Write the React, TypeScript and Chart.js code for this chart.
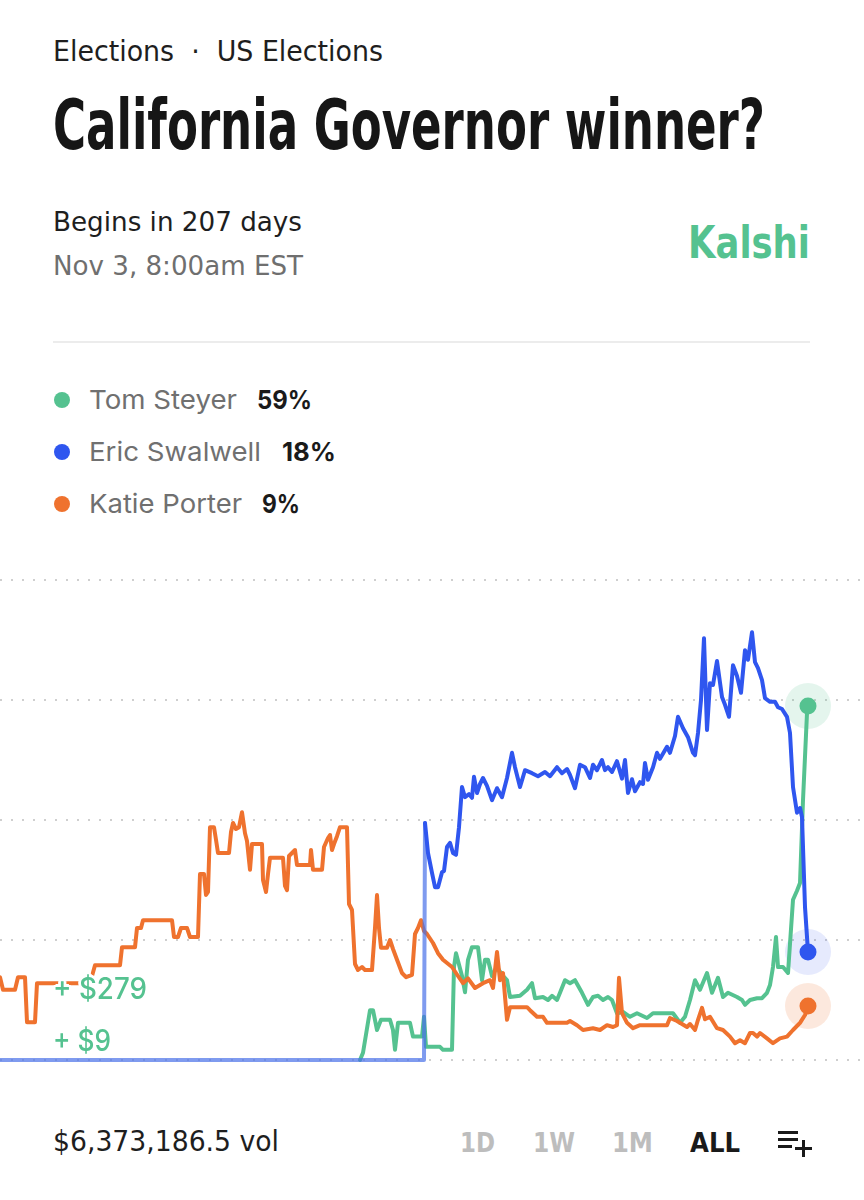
import React, { useEffect, useLayoutEffect, useRef } from "react";
import { Chart, registerables } from "chart.js";

Chart.register(...registerables);

// ---------- data (x = time index along the ALL range, y = chance in %) ----------
const candidates = ["Tom Steyer", "Eric Swalwell", "Katie Porter"];
const currentPct = [59, 18, 9];
const gridTicks = [0, 20, 40, 60, 80];
const xRange = [0, 864];
const marketOpenX = 425;

const steyerPoints: number[][] = [
  [360, 0], [363, 1.2], [370, 8.3], [373, 8.3], [377, 5], [381, 6.7], [390, 6.7], [393, 5], [395, 1.7],
  [398, 6.2], [410, 6.2], [413, 3.9], [422, 3.9], [424, 7.2], [426, 2.2], [440, 2.2], [443, 1.7],
  [452, 1.7], [454, 15.5], [456, 17.8], [462, 14], [465, 11.3], [468, 16.7], [472, 18.8], [478, 18.8],
  [482, 13.3], [485, 16.7], [488, 16.7], [492, 14], [497, 15.5], [503, 14], [507, 13.3], [510, 10.5],
  [520, 10.7], [527, 11.7], [532, 12.8], [535, 10.3], [543, 10.5], [548, 10], [552, 10.7], [557, 10],
  [560, 11.2], [565, 13.3], [570, 12.8], [575, 13.3], [582, 11.2], [588, 9.2], [593, 10.5], [598, 10.7],
  [603, 10], [608, 10.5], [612, 10], [617, 7.8], [623, 8], [630, 7.2], [637, 7.8], [647, 7], [653, 7.8],
  [673, 7.8], [680, 6.2], [685, 7.2], [690, 10], [695, 13.3], [700, 11.7], [707, 14.5], [712, 11.2],
  [718, 13.7], [723, 10.5], [728, 11.2], [737, 10.5], [742, 10], [745, 9.2], [750, 10], [757, 10.3],
  [762, 10.3], [767, 11.2], [770, 12.5], [773, 15.5], [776, 20.5], [778, 15.5], [783, 15.5], [788, 14.5],
  [793, 26.7], [797, 28.2], [800, 29.5], [803, 43.3], [807, 57.8], [808, 59],
];

const swalwellPoints: number[][] = [
  [0, 0], [424, 0], [425, 39.5], [428, 34.5], [432, 31.2], [435, 28.8], [438, 28.8], [442, 31.3],
  [444, 31.5], [447, 35.5], [450, 36.2], [453, 34.5], [456, 34.2], [459, 38.8], [462, 45.5], [465, 43.8],
  [469, 44.3], [472, 43.7], [474, 47.2], [477, 44.5], [480, 46], [483, 47], [487, 45.7], [492, 43.3],
  [497, 45.3], [502, 43.8], [507, 47], [512, 51.2], [515, 48.8], [520, 45.5], [525, 48.3], [532, 47.8],
  [538, 47.3], [545, 48], [550, 47.3], [557, 48.8], [562, 47.8], [567, 48.5], [570, 47.5], [575, 45.3],
  [580, 49.2], [585, 48.8], [590, 47], [593, 49.2], [597, 48.3], [602, 50], [605, 48.3], [608, 48.8],
  [612, 48], [617, 49.8], [622, 46.9], [625, 50], [628, 44.5], [632, 46.8], [635, 44.8], [640, 46.3],
  [643, 46], [645, 49.5], [648, 46.7], [653, 48.8], [657, 51.2], [660, 50.2], [667, 52.2], [670, 51.2],
  [675, 54], [678, 57.2], [683, 55.3], [688, 53.8], [693, 51.2], [695, 50.8], [698, 54.5], [701, 60],
  [704, 70.3], [707, 55], [710, 62.8], [713, 62.5], [717, 66.5], [722, 60.5], [725, 59.2], [729, 57.2],
  [733, 65.8], [737, 64], [741, 61.2], [745, 68.3], [748, 66.7], [752, 71.3], [755, 66.3], [758, 65.3],
  [762, 63.3], [765, 60.3], [770, 59.7], [775, 59.7], [778, 58.8], [782, 58.5], [787, 57.2], [790, 54.5],
  [793, 45.5], [797, 41.2], [800, 42], [802, 40.5], [805, 25.5], [808, 18],
];

const porterPoints: number[][] = [
  [0, 13.8], [3, 11.7], [15, 11.7], [18, 13.8], [25, 13.8], [27, 6.3], [35, 6.3], [37, 12.8], [90, 12.8],
  [95, 15.8], [120, 15.8], [122, 18.8], [135, 18.8], [137, 22], [141, 22], [143, 23.3], [172, 23.3],
  [174, 20.5], [178, 20.5], [181, 22], [187, 22], [190, 20.5], [198, 20.5], [200, 31], [204, 31],
  [206, 27.5], [208, 28], [210, 38.8], [214, 38.8], [216, 36.7], [218, 34.5], [229, 34.5], [231, 38],
  [233, 39.5], [236, 38.5], [239, 38.8], [242, 41.3], [245, 37.8], [247, 36.5], [250, 31.7], [252, 36],
  [262, 36], [263, 30], [266, 28], [268, 31], [270, 33.7], [283, 33.7], [285, 29], [287, 28.3], [289, 34],
  [292, 34.5], [295, 35], [297, 32.5], [310, 32.5], [311, 35], [313, 31.7], [322, 31.7], [324, 35.5],
  [328, 37], [330, 37.5], [332, 35], [334, 36], [337, 37.3], [340, 38.8], [347, 38.8], [349, 26],
  [352, 25], [355, 16], [358, 15], [362, 15.5], [365, 15], [372, 15], [375, 22], [377, 27.5], [379, 22],
  [381, 18.7], [387, 18.7], [390, 20], [393, 18.5], [397, 16.7], [402, 14.5], [406, 13.8], [412, 14.2],
  [415, 21], [418, 22], [421, 23.3], [424, 21.5], [427, 21], [433, 19.5], [438, 17.8], [443, 16.7],
  [452, 15.5], [458, 14], [463, 12.8], [468, 13.6], [475, 12], [483, 12.8], [490, 13.3], [493, 12],
  [497, 18], [500, 13.3], [503, 14.5], [507, 6.7], [510, 8.8], [527, 8.8], [530, 8.3], [537, 7.2],
  [543, 7.2], [547, 6.2], [567, 6.2], [570, 6.5], [577, 5.8], [583, 5], [593, 5.3], [600, 5], [607, 5.8],
  [613, 5.5], [617, 5.8], [619, 13.7], [622, 7.8], [627, 6.2], [633, 5.3], [640, 5.8], [653, 5.8],
  [667, 5.8], [670, 7], [677, 6.5], [687, 5.5], [690, 6], [695, 5], [698, 6.7], [702, 8.7], [705, 6.8],
  [710, 7.2], [717, 5.3], [723, 5], [730, 3.9], [735, 2.8], [740, 3.3], [745, 2.8], [750, 4.5],
  [753, 4.5], [757, 3.9], [760, 4.5], [767, 3.6], [773, 2.8], [780, 3.6], [787, 3.9], [793, 5],
  [800, 6.2], [805, 7.5], [808, 9],
];

const GREEN = "#55c290";
const BLUE = "#2f56ef";
const BLUE_LIGHT = "rgba(72,112,232,0.7)";
const ORANGE = "#ef722e";
const HALOS = ["rgba(85,194,144,0.16)", "rgba(47,86,239,0.12)", "rgba(239,114,46,0.16)"];
const COLORS = [GREEN, BLUE, ORANGE];

const NARROW = '"Liberation Sans Narrow", "DejaVu Sans Condensed", "Roboto", sans-serif';
const SANS = 'Inter, "Noto Sans", Roboto, sans-serif';

function Fit(props: {
  x: number; y: number; w: number; size: number; weight?: number; color: string;
  family: string; children: React.ReactNode; shadow?: string; capRatio?: number;
}) {
  const ref = useRef<HTMLSpanElement>(null);
  useLayoutEffect(() => {
    const el = ref.current;
    if (!el) return;
    el.style.transform = "none";
    const actual = el.getBoundingClientRect().width;
    if (actual > 0) el.style.transform = `scaleX(${props.w / actual})`;
  });
  const top = props.y - props.size * (props.capRatio ?? 0.49);
  return (
    <span
      ref={ref}
      style={{
        position: "absolute", left: props.x, top, whiteSpace: "nowrap", transformOrigin: "0 0",
        fontSize: props.size, lineHeight: `${props.size}px`, fontWeight: props.weight ?? 400,
        color: props.color, fontFamily: props.family, textShadow: props.shadow,
      }}
    >
      {props.children}
    </span>
  );
}

const endDots = {
  id: "endDots",
  beforeDatasetsDraw(chart: any) {
    const ctx = chart.ctx;
    chart.data.datasets.forEach((ds: any, i: number) => {
      const meta = chart.getDatasetMeta(i);
      const pt = meta.data[meta.data.length - 1];
      if (!pt) return;
      ctx.save();
      ctx.fillStyle = ds.halo;
      ctx.beginPath();
      ctx.arc(pt.x, pt.y, 23, 0, Math.PI * 2);
      ctx.fill();
      ctx.restore();
    });
  },
  afterDatasetsDraw(chart: any) {
    const ctx = chart.ctx;
    chart.data.datasets.forEach((ds: any, i: number) => {
      const meta = chart.getDatasetMeta(i);
      const pt = meta.data[meta.data.length - 1];
      if (!pt) return;
      ctx.save();
      ctx.fillStyle = ds.dot;
      ctx.beginPath();
      ctx.arc(pt.x, pt.y, 8.5, 0, Math.PI * 2);
      ctx.fill();
      ctx.restore();
    });
  },
};

function PriceChart() {
  const ref = useRef<HTMLCanvasElement>(null);
  useEffect(() => {
    if (!ref.current) return;
    const series = [steyerPoints, swalwellPoints, porterPoints];
    const chart = new Chart(ref.current, {
      type: "line",
      data: {
        datasets: series.map((pts, i) => ({
          label: candidates[i],
          data: pts.map(([x, y]) => ({ x, y })),
          borderColor: COLORS[i],
          borderWidth: 4,
          pointRadius: 0,
          tension: 0,
          clip: false,
          order: i === 1 ? 0 : i === 2 ? 1 : 2,
          halo: HALOS[i],
          dot: COLORS[i],
          segment: i === 1 ? {
            borderColor: (c: any) => (c.p1.parsed.x <= marketOpenX ? BLUE_LIGHT : BLUE),
          } : undefined,
        })) as any,
      },
      options: {
        animation: false,
        responsive: false,
        events: [],
        layout: { padding: { top: 20, bottom: 20, left: 0, right: 0 } },
        plugins: { legend: { display: false }, tooltip: { enabled: false } },
        elements: { line: { borderJoinStyle: "round", borderCapStyle: "round" } },
        scales: {
          x: { type: "linear", min: xRange[0], max: xRange[1], display: false },
          y: {
            min: gridTicks[0],
            max: gridTicks[gridTicks.length - 1],
            afterBuildTicks: (s: any) => { s.ticks = gridTicks.map((v) => ({ value: v })); },
            ticks: { display: false },
            grid: { color: "#cfcfcf", lineWidth: 2, drawTicks: false },
            border: { display: false, dash: [2, 9] },
          },
        },
      } as any,
      plugins: [endDots],
    });
    return () => chart.destroy();
  }, []);
  return (
    <canvas ref={ref} width={864} height={520}
      style={{ position: "absolute", left: 0, top: 560, width: 864, height: 520 }} />
  );
}

const legendRows = [
  { y: 400, nameW: 148, pctX: 257, pctW: 55 },
  { y: 452, nameW: 172, pctX: 282, pctW: 54 },
  { y: 504, nameW: 153, pctX: 262, pctW: 38 },
];

const whiteHalo =
  "2px 0 #fff, -2px 0 #fff, 0 2px #fff, 0 -2px #fff, 2px 2px #fff, -2px -2px #fff, 2px -2px #fff, -2px 2px #fff, 3px 0 #fff, -3px 0 #fff, 0 3px #fff, 0 -3px #fff";

export default function App() {
  return (
    <div style={{ position: "absolute", left: 0, top: 0, width: 864, height: 1200, background: "#fff", overflow: "hidden" }}>
      <Fit x={53} y={52} w={330} size={28} color="#1e1e1e" family={NARROW}>
        Elections&nbsp;&nbsp;·&nbsp;&nbsp;US Elections
      </Fit>
      <Fit x={53} y={124} w={712} size={70} weight={700} color="#161616" family={NARROW}>
        California Governor winner?
      </Fit>
      <Fit x={53} y={221} w={249} size={27} color="#1e1e1e" family={NARROW}>
        Begins in 207 days
      </Fit>
      <Fit x={53} y={265} w={250} size={27} color="#6f6f6f" family={NARROW}>
        Nov 3, 8:00am EST
      </Fit>
      <Fit x={688} y={242} w={122} size={45} weight={700} color={GREEN} family={NARROW}>
        Kalshi
      </Fit>
      <div style={{ position: "absolute", left: 53, top: 341, width: 757, height: 2, background: "#ececec" }} />

      {legendRows.map((r, i) => (
        <React.Fragment key={candidates[i]}>
          <div style={{ position: "absolute", left: 54, top: r.y - 8, width: 16, height: 16, borderRadius: 8, background: COLORS[i] }} />
          <Fit x={89} y={r.y} w={r.nameW} size={26} color="#707070" family={SANS}>{candidates[i]}</Fit>
          <Fit x={r.pctX} y={r.y} w={r.pctW} size={26} weight={700} color="#1a1a1a" family={SANS}>
            {currentPct[i]}%
          </Fit>
        </React.Fragment>
      ))}

      <PriceChart />

      <Fit x={53} y={988} w={94} size={30} weight={500} color={GREEN} family={SANS} shadow={whiteHalo}>+ $279</Fit>
      <Fit x={53} y={1040} w={58} size={30} weight={500} color={GREEN} family={SANS} shadow={whiteHalo}>+ $9</Fit>

      <Fit x={53} y={1142} w={226} size={28} color="#1e1e1e" family={NARROW}>$6,373,186.5 vol</Fit>
      <Fit x={460} y={1142} w={35} size={27} weight={700} color="#bdbdbd" family={NARROW}>1D</Fit>
      <Fit x={533} y={1142} w={42} size={27} weight={700} color="#bdbdbd" family={NARROW}>1W</Fit>
      <Fit x={612} y={1142} w={41} size={27} weight={700} color="#bdbdbd" family={NARROW}>1M</Fit>
      <Fit x={690} y={1142} w={50} size={27} weight={700} color="#1a1a1a" family={NARROW}>ALL</Fit>
      <div style={{ position: "absolute", left: 778, top: 1131, width: 20, height: 3, background: "#1a1a1a" }} />
      <div style={{ position: "absolute", left: 778, top: 1138, width: 20, height: 3, background: "#1a1a1a" }} />
      <div style={{ position: "absolute", left: 778, top: 1145, width: 14, height: 3, background: "#1a1a1a" }} />
      <div style={{ position: "absolute", left: 795, top: 1147, width: 17, height: 3, background: "#1a1a1a" }} />
      <div style={{ position: "absolute", left: 802, top: 1140, width: 3, height: 17, background: "#1a1a1a" }} />
    </div>
  );
}
